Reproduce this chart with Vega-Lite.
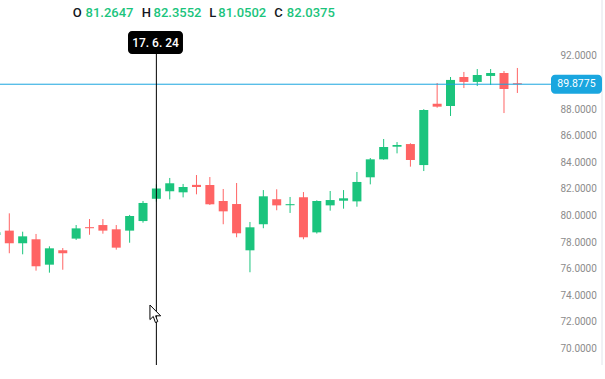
{
  "$schema": "https://vega.github.io/schema/vega-lite/v6.json",
  "width": 553,
  "height": 365,
  "autosize": {"type": "none"},
  "padding": {"left": 0, "top": 0, "right": 52, "bottom": 14},
  "background": "white",
  "config": {"view": {"stroke": null}, "font": "Roboto"},
  "data": {"values": [
    {"t": 0, "open": 78.55, "high": 79.0, "low": 78.3, "close": 78.75},
    {"t": 1, "open": 78.87, "high": 80.17, "low": 77.17, "close": 77.92},
    {"t": 2, "open": 77.92, "high": 78.79, "low": 77.09, "close": 78.44},
    {"t": 3, "open": 78.22, "high": 78.62, "low": 75.86, "close": 76.19},
    {"t": 4, "open": 76.31, "high": 77.69, "low": 75.71, "close": 77.54},
    {"t": 5, "open": 77.39, "high": 77.56, "low": 75.93, "close": 77.16},
    {"t": 6, "open": 78.27, "high": 79.29, "low": 78.17, "close": 79.04},
    {"t": 7, "open": 79.13, "high": 79.74, "low": 78.56, "close": 79.05},
    {"t": 8, "open": 79.29, "high": 79.74, "low": 78.64, "close": 78.87},
    {"t": 9, "open": 78.97, "high": 79.29, "low": 77.44, "close": 77.59},
    {"t": 10, "open": 78.87, "high": 80.05, "low": 77.96, "close": 79.97},
    {"t": 11, "open": 79.59, "high": 81.10, "low": 79.47, "close": 80.95},
    {"t": 12, "open": 81.2647, "high": 82.3552, "low": 81.0502, "close": 82.0375},
    {"t": 13, "open": 81.83, "high": 82.83, "low": 81.22, "close": 82.43},
    {"t": 14, "open": 81.75, "high": 82.38, "low": 81.37, "close": 82.15},
    {"t": 15, "open": 82.31, "high": 83.05, "low": 81.60, "close": 82.15},
    {"t": 16, "open": 82.30, "high": 82.90, "low": 80.80, "close": 80.85},
    {"t": 17, "open": 81.10, "high": 82.00, "low": 79.35, "close": 80.32},
    {"t": 18, "open": 80.87, "high": 82.45, "low": 78.37, "close": 78.67},
    {"t": 19, "open": 77.39, "high": 79.52, "low": 75.74, "close": 79.12},
    {"t": 20, "open": 79.35, "high": 81.92, "low": 79.05, "close": 81.45},
    {"t": 21, "open": 81.23, "high": 81.98, "low": 80.40, "close": 80.77},
    {"t": 22, "open": 80.78, "high": 81.40, "low": 80.20, "close": 80.86},
    {"t": 23, "open": 81.38, "high": 81.77, "low": 78.22, "close": 78.37},
    {"t": 24, "open": 78.74, "high": 81.15, "low": 78.65, "close": 81.10},
    {"t": 25, "open": 80.77, "high": 81.85, "low": 80.37, "close": 81.17},
    {"t": 26, "open": 81.12, "high": 81.92, "low": 80.52, "close": 81.30},
    {"t": 27, "open": 81.07, "high": 83.28, "low": 80.67, "close": 82.53},
    {"t": 28, "open": 82.88, "high": 84.33, "low": 82.35, "close": 84.23},
    {"t": 29, "open": 84.23, "high": 85.76, "low": 84.20, "close": 85.16},
    {"t": 30, "open": 85.18, "high": 85.53, "low": 84.68, "close": 85.31},
    {"t": 31, "open": 85.38, "high": 85.44, "low": 83.68, "close": 84.18},
    {"t": 32, "open": 83.80, "high": 88.00, "low": 83.35, "close": 87.94},
    {"t": 33, "open": 88.41, "high": 89.97, "low": 88.11, "close": 88.19},
    {"t": 34, "open": 88.24, "high": 90.42, "low": 87.49, "close": 90.20},
    {"t": 35, "open": 90.42, "high": 90.80, "low": 89.59, "close": 90.05},
    {"t": 36, "open": 90.05, "high": 91.02, "low": 89.74, "close": 90.57},
    {"t": 37, "open": 90.50, "high": 91.02, "low": 89.82, "close": 90.72},
    {"t": 38, "open": 90.72, "high": 90.87, "low": 87.71, "close": 89.52},
    {"t": 39, "open": 89.95, "high": 91.10, "low": 89.22, "close": 89.8775}
  ]},
  "encoding": {
    "x": {"type": "quantitative", "scale": {"domain": [0.3044, 41.665], "nice": false, "zero": false, "padding": 0}, "axis": null},
    "y": {"type": "quantitative", "scale": {"domain": [68.7669, 96.2105], "nice": false, "zero": false, "padding": 0},
      "axis": {"orient": "right", "values": [70, 72, 74, 76, 78, 80, 82, 84, 86, 88, 92], "format": ".4f", "ticks": false, "domain": false, "grid": false, "labelPadding": 7, "labelColor": "#8c8c8c", "labelFontSize": 10, "labelFont": "Roboto", "labelAlign": "left", "labelBaseline": "middle", "title": null}}
  },
  "layer": [
    {
      "mark": {"type": "rule", "strokeWidth": 1},
      "encoding": {
        "x": {"field": "t", "type": "quantitative"},
        "y": {"field": "low", "type": "quantitative"},
        "y2": {"field": "high"},
        "color": {"condition": {"test": "datum.close >= datum.open", "value": "#1bc47d"}, "value": "#ff6464"}
      }
    },
    {
      "mark": {"type": "bar", "size": 9},
      "encoding": {
        "x": {"field": "t", "type": "quantitative"},
        "y": {"field": "open", "type": "quantitative"},
        "y2": {"field": "close"},
        "color": {"condition": {"test": "datum.close >= datum.open", "value": "#1bc47d"}, "value": "#ff6464"}
      }
    },
    {
      "data": {"values": [{}]},
      "mark": {"type": "rule", "color": "#1aa6df", "strokeWidth": 1},
      "encoding": {"y": {"datum": 89.8775}}
    },
    {
      "data": {"values": [{}]},
      "mark": {"type": "rule", "color": "#e0e3eb", "strokeWidth": 1},
      "encoding": {"x": {"datum": 45.33}, "y": {"datum": 96.2105}, "y2": {"datum": 68.7669}}
    },
    {
      "data": {"values": [{}]},
      "mark": {"type": "rule", "color": "#000000", "strokeWidth": 1},
      "encoding": {"x": {"datum": 12}, "y": {"datum": 92.15}, "y2": {"datum": 68.7669}}
    },
    {
      "data": {"values": [{}]},
      "mark": {"type": "rect", "color": "#000000", "cornerRadius": 4},
      "encoding": {"x": {"datum": 9.878}, "x2": {"datum": 13.99}, "y": {"datum": 93.88}, "y2": {"datum": 92.15}}
    },
    {
      "data": {"values": [{}]},
      "mark": {"type": "text", "color": "#ffffff", "fontSize": 12, "fontWeight": 500, "align": "center", "baseline": "middle"},
      "encoding": {"x": {"datum": 11.935}, "y": {"datum": 93.015}, "text": {"value": "17. 6. 24"}}
    },
    {
      "data": {"values": [{}]},
      "mark": {"type": "rect", "color": "#1aa6df", "cornerRadius": 4},
      "encoding": {"x": {"datum": 41.515}, "x2": {"datum": 45.33}, "y": {"datum": 90.59}, "y2": {"datum": 89.165}}
    },
    {
      "data": {"values": [{}]},
      "mark": {"type": "text", "color": "#ffffff", "fontSize": 10.5, "align": "center", "baseline": "middle"},
      "encoding": {"x": {"datum": 43.42}, "y": {"datum": 89.8775}, "text": {"value": "89.8775"}}
    },
    {
      "data": {"values": [{}]},
      "mark": {"type": "text", "color": "#131722", "fontSize": 13, "fontWeight": 500, "align": "left", "baseline": "alphabetic"},
      "encoding": {"x": {"datum": 5.75}, "y": {"datum": 94.91}, "text": {"value": "O"}}
    },
    {
      "data": {"values": [{}]},
      "mark": {"type": "text", "color": "#1bc47d", "fontSize": 13, "fontWeight": 500, "align": "left", "baseline": "alphabetic"},
      "encoding": {"x": {"datum": 6.70}, "y": {"datum": 94.91}, "text": {"value": "81.2647"}}
    },
    {
      "data": {"values": [{}]},
      "mark": {"type": "text", "color": "#131722", "fontSize": 13, "fontWeight": 500, "align": "left", "baseline": "alphabetic"},
      "encoding": {"x": {"datum": 10.90}, "y": {"datum": 94.91}, "text": {"value": "H"}}
    },
    {
      "data": {"values": [{}]},
      "mark": {"type": "text", "color": "#1bc47d", "fontSize": 13, "fontWeight": 500, "align": "left", "baseline": "alphabetic"},
      "encoding": {"x": {"datum": 11.79}, "y": {"datum": 94.91}, "text": {"value": "82.3552"}}
    },
    {
      "data": {"values": [{}]},
      "mark": {"type": "text", "color": "#131722", "fontSize": 13, "fontWeight": 500, "align": "left", "baseline": "alphabetic"},
      "encoding": {"x": {"datum": 15.96}, "y": {"datum": 94.91}, "text": {"value": "L"}}
    },
    {
      "data": {"values": [{}]},
      "mark": {"type": "text", "color": "#1bc47d", "fontSize": 13, "fontWeight": 500, "align": "left", "baseline": "alphabetic"},
      "encoding": {"x": {"datum": 16.63}, "y": {"datum": 94.91}, "text": {"value": "81.0502"}}
    },
    {
      "data": {"values": [{}]},
      "mark": {"type": "text", "color": "#131722", "fontSize": 13, "fontWeight": 500, "align": "left", "baseline": "alphabetic"},
      "encoding": {"x": {"datum": 20.81}, "y": {"datum": 94.91}, "text": {"value": "C"}}
    },
    {
      "data": {"values": [{}]},
      "mark": {"type": "text", "color": "#1bc47d", "fontSize": 13, "fontWeight": 500, "align": "left", "baseline": "alphabetic"},
      "encoding": {"x": {"datum": 21.76}, "y": {"datum": 94.91}, "text": {"value": "82.0375"}}
    },
    {
      "data": {"values": [{}]},
      "mark": {"type": "point", "shape": "M-0.67,-1 L-0.67,0.62 L-0.3,0.27 L-0.06,0.95 L0.2,0.84 L-0.04,0.2 L0.52,0.2 Z", "size": 324, "filled": true, "fill": "#ffffff", "stroke": "#000000", "strokeWidth": 1, "opacity": 1},
      "encoding": {"x": {"datum": 11.97}, "y": {"datum": 72.60}}
    }
  ]
}
